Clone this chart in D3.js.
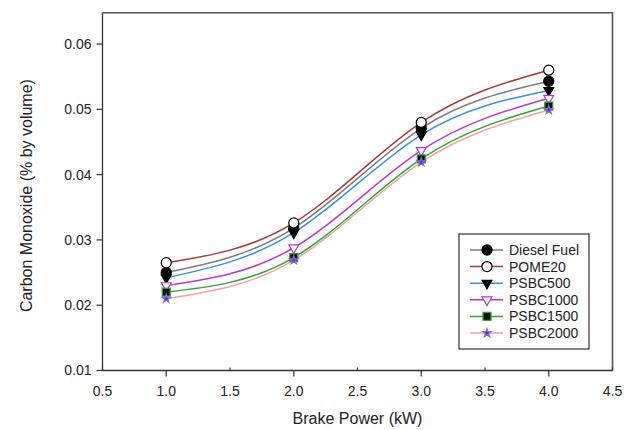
<!DOCTYPE html>
<meta charset="utf-8">
<html>
<head>
<title>Carbon Monoxide</title>
<style>
body { margin: 0; background: #fff; }
text { font-family: "Liberation Sans", Arial, sans-serif; fill: #222; }
</style>
</head>
<body>
<svg width="630" height="430"></svg>
<script src="https://d3js.org/d3.v7.min.js"></script>
<script>

var power = [1.0, 2.0, 3.0, 4.0];
var series = ["Diesel Fuel", "POME20", "PSBC500", "PSBC1000", "PSBC1500", "PSBC2000"];
var diesel   = [0.0250, 0.0318, 0.0471, 0.0543];
var pome20   = [0.0265, 0.0326, 0.0480, 0.0560];
var psbc500  = [0.0242, 0.0311, 0.0461, 0.0529];
var psbc1000 = [0.0230, 0.0288, 0.0437, 0.0517];
var psbc1500 = [0.0220, 0.0273, 0.0424, 0.0505];
var psbc2000 = [0.0210, 0.0269, 0.0419, 0.0499];
var xTicks = [0.5, 1.0, 1.5, 2.0, 2.5, 3.0, 3.5, 4.0, 4.5];
var yTicks = [0.01, 0.02, 0.03, 0.04, 0.05, 0.06];

var values = [diesel, pome20, psbc500, psbc1000, psbc1500, psbc2000];
var colors = ["#7d7d7d", "#a2393a", "#3b93d9", "#b53ac4", "#33a33a", "#f2a3a3"];
// marker: shape, fill, stroke
var marks = [
  {type: d3.symbolCircle, size: 80, fill: "#000", stroke: "#000"},
  {type: d3.symbolCircle, size: 80, fill: "#fff", stroke: "#000"},
  {type: "tri", size: 80, fill: "#000", stroke: "#000"},
  {type: "tri", size: 80, fill: "#fff", stroke: "#b53ac4"},
  {type: d3.symbolSquare, size: 64, fill: "#111", stroke: "#33a33a"},
  {type: d3.symbolStar, size: 22, fill: "#3a3ad0", stroke: "#8a6ad0"}
];

var svg = d3.select("svg");
var pL = 102.5, pR = 612.5, pT = 12.7, pB = 370.5;

var x = d3.scaleLinear().domain([0.5, 4.5]).range([pL, pR]);
var y = d3.scaleLinear().domain([0.01, 0.0648]).range([pB, pT]);

function symbolPath(m) {
  if (m.type === "tri") {
    // downward triangle
    var s = Math.sqrt(m.size) * 1.1, h = s * 0.87;
    return "M" + (-s / 2) + "," + (-h / 3) + "L" + (s / 2) + "," + (-h / 3) + "L0," + (2 * h / 3) + "Z";
  }
  return d3.symbol().type(m.type).size(m.size)();
}

// frame top/right
svg.append("path")
  .attr("d", "M" + pL + "," + pT + "H" + pR + "V" + pB)
  .attr("fill", "none").attr("stroke", "#555").attr("stroke-width", 1.6);

// x axis
var gx = svg.append("g").attr("transform", "translate(0," + pB + ")");
gx.append("line").attr("x1", pL).attr("x2", pR).attr("stroke", "#333").attr("stroke-width", 1.3);
gx.selectAll(".tk").data(xTicks).enter().append("line")
  .attr("x1", function(d) { return x(d); }).attr("x2", function(d) { return x(d); })
  .attr("y1", 0).attr("y2", function(d) { return d % 1 === 0 ? 6 : -3; })
  .attr("stroke", "#333").attr("stroke-width", 1.2);
gx.selectAll(".lb").data(xTicks).enter().append("text")
  .attr("x", function(d) { return x(d); }).attr("y", 21).attr("dy", "0.35em")
  .attr("text-anchor", "middle").attr("font-size", 14)
  .text(d3.format(".1f"));

// y axis
var gy = svg.append("g").attr("transform", "translate(" + pL + ",0)");
gy.append("line").attr("y1", pT).attr("y2", pB).attr("stroke", "#333").attr("stroke-width", 1.3);
gy.selectAll(".tk").data(yTicks).enter().append("line")
  .attr("y1", function(d) { return y(d); }).attr("y2", function(d) { return y(d); })
  .attr("x1", -6).attr("x2", 0)
  .attr("stroke", "#333").attr("stroke-width", 1.2);
gy.selectAll(".lb").data(yTicks).enter().append("text")
  .attr("y", function(d) { return y(d); }).attr("x", -11).attr("dy", "0.35em")
  .attr("text-anchor", "end").attr("font-size", 14)
  .text(d3.format(".2f"));

// titles
svg.append("text").attr("x", (pL + pR) / 2).attr("y", 418).attr("dy", "0.35em")
  .attr("text-anchor", "middle").attr("font-size", 16).text("Brake Power (kW)");
svg.append("text").attr("transform", "translate(26," + ((pT + pB) / 2 + 4) + ") rotate(-90)")
  .attr("dy", "0.35em").attr("text-anchor", "middle").attr("font-size", 16)
  .text("Carbon Monoxide (% by volume)");

// lines
var line = d3.line()
  .x(function(d, i) { return x(power[i]); })
  .y(function(d) { return y(d); })
  .curve(d3.curveNatural);

svg.append("g").selectAll("path").data(values).enter().append("path")
  .attr("d", line)
  .attr("fill", "none")
  .attr("stroke", function(d, i) { return colors[i]; })
  .attr("stroke-width", 1.5);

// markers
values.forEach(function(vals, si) {
  var m = marks[si];
  svg.append("g").selectAll("path").data(vals).enter().append("path")
    .attr("transform", function(d, i) { return "translate(" + x(power[i]) + "," + y(d) + ")"; })
    .attr("d", symbolPath(m))
    .attr("fill", m.fill).attr("stroke", m.stroke).attr("stroke-width", 1.2);
});

// legend
var lg = svg.append("g").attr("transform", "translate(459,234)");
lg.append("rect").attr("width", 130).attr("height", 115)
  .attr("fill", "#fff").attr("stroke", "#333").attr("stroke-width", 1.2);
var item = lg.selectAll(".it").data(series).enter().append("g")
  .attr("transform", function(d, i) { return "translate(0," + (16 + i * 16.6) + ")"; });
item.append("line").attr("x1", 11).attr("x2", 44)
  .attr("stroke", function(d, i) { return colors[i]; }).attr("stroke-width", 1.5);
item.append("path")
  .attr("transform", "translate(28,0)")
  .attr("d", function(d, i) { return symbolPath(marks[i]); })
  .attr("fill", function(d, i) { return marks[i].fill; })
  .attr("stroke", function(d, i) { return marks[i].stroke; })
  .attr("stroke-width", 1.2);
item.append("text").attr("x", 50).attr("dy", "0.35em").attr("font-size", 14)
  .text(function(d) { return d; });

</script>
</body>
</html>
